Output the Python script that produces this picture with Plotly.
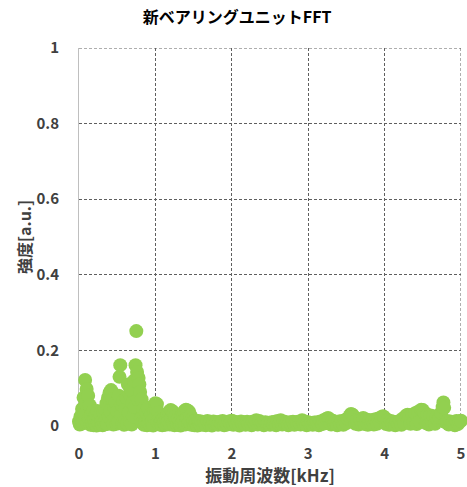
import plotly.graph_objects as go

# FFT spectrum of the new bearing unit: frequency [kHz] vs. intensity [a.u.]
# 0 - 1.6 kHz band (fine bins)
freq_low = [
    0.00, 0.01, 0.02, 0.03, 0.04, 0.05, 0.06, 0.07, 0.08, 0.09,
    0.10, 0.11, 0.12, 0.13, 0.14, 0.15, 0.16, 0.17, 0.18, 0.19,
    0.20, 0.21, 0.22, 0.23, 0.24, 0.25, 0.26, 0.27, 0.28, 0.29,
    0.30, 0.31, 0.32, 0.33, 0.34, 0.35, 0.36, 0.37, 0.38, 0.39,
    0.40, 0.41, 0.42, 0.43, 0.44, 0.45, 0.46, 0.47, 0.48, 0.49,
    0.50, 0.51, 0.52, 0.53, 0.54, 0.55, 0.56, 0.57, 0.58, 0.59,
    0.60, 0.61, 0.62, 0.63, 0.64, 0.65, 0.66, 0.67, 0.68, 0.69,
    0.70, 0.71, 0.72, 0.73, 0.74, 0.75, 0.76, 0.77, 0.78, 0.79,
    0.80, 0.81, 0.82, 0.83, 0.84, 0.85, 0.86, 0.87, 0.88, 0.89,
    0.90, 0.91, 0.92, 0.93, 0.94, 0.95, 0.96, 0.97, 0.98, 0.99,
    1.00, 1.01, 1.02, 1.03, 1.04, 1.05, 1.06, 1.07, 1.08, 1.09,
    1.10, 1.11, 1.12, 1.13, 1.14, 1.15, 1.16, 1.17, 1.18, 1.19,
    1.20, 1.21, 1.22, 1.23, 1.24, 1.25, 1.26, 1.27, 1.28, 1.29,
    1.30, 1.31, 1.32, 1.33, 1.34, 1.35, 1.36, 1.37, 1.38, 1.39,
    1.40, 1.41, 1.42, 1.43, 1.44, 1.45, 1.46, 1.47, 1.48, 1.49,
    1.50, 1.51, 1.52, 1.53, 1.54, 1.55, 1.56, 1.57, 1.58, 1.59,
]
intensity_low = [
    0.012, 0.004, 0.025, 0.006, 0.045, 0.010, 0.075, 0.030, 0.122, 0.060,
    0.098, 0.008, 0.080, 0.020, 0.055, 0.003, 0.030, 0.009, 0.038, 0.002,
    0.015, 0.006, 0.030, 0.001, 0.040, 0.008, 0.020, 0.004, 0.032, 0.007,
    0.012, 0.002, 0.035, 0.009, 0.045, 0.015, 0.060, 0.005, 0.075, 0.025,
    0.088, 0.040, 0.095, 0.012, 0.070, 0.004, 0.050, 0.020, 0.062, 0.006,
    0.040, 0.010, 0.080, 0.130, 0.161, 0.030, 0.055, 0.008, 0.066, 0.003,
    0.045, 0.015, 0.075, 0.006, 0.110, 0.035, 0.085, 0.010, 0.095, 0.004,
    0.060, 0.025, 0.120, 0.050, 0.161, 0.251, 0.143, 0.070, 0.127, 0.110,
    0.090, 0.020, 0.070, 0.008, 0.045, 0.003, 0.025, 0.010, 0.035, 0.002,
    0.048, 0.007, 0.020, 0.004, 0.030, 0.009, 0.015, 0.001, 0.040, 0.020,
    0.060, 0.045, 0.058, 0.010, 0.035, 0.004, 0.020, 0.008, 0.012, 0.002,
    0.018, 0.006, 0.010, 0.003, 0.022, 0.008, 0.030, 0.012, 0.038, 0.004,
    0.042, 0.020, 0.040, 0.007, 0.035, 0.002, 0.025, 0.009, 0.015, 0.003,
    0.020, 0.006, 0.012, 0.001, 0.025, 0.008, 0.032, 0.015, 0.040, 0.004,
    0.043, 0.022, 0.041, 0.006, 0.038, 0.010, 0.028, 0.003, 0.018, 0.008,
    0.012, 0.002, 0.014, 0.006, 0.010, 0.001, 0.013, 0.005, 0.011, 0.003,
]

# 1.6 - 5.0 kHz band
freq_high = [
    1.60, 1.62, 1.64, 1.66, 1.68, 1.70, 1.72, 1.74, 1.76, 1.78,
    1.80, 1.82, 1.84, 1.86, 1.88, 1.90, 1.92, 1.94, 1.96, 1.98,
    2.00, 2.02, 2.04, 2.06, 2.08, 2.10, 2.12, 2.14, 2.16, 2.18,
    2.20, 2.22, 2.24, 2.26, 2.28, 2.30, 2.32, 2.34, 2.36, 2.38,
    2.40, 2.42, 2.44, 2.46, 2.48, 2.50, 2.52, 2.54, 2.56, 2.58,
    2.60, 2.62, 2.64, 2.66, 2.68, 2.70, 2.72, 2.74, 2.76, 2.78,
    2.80, 2.82, 2.84, 2.86, 2.88, 2.90, 2.92, 2.94, 2.96, 2.98,
    3.00, 3.02, 3.04, 3.06, 3.08, 3.10, 3.12, 3.14, 3.16, 3.18,
    3.20, 3.22, 3.24, 3.26, 3.28, 3.30, 3.32, 3.34, 3.36, 3.38,
    3.40, 3.42, 3.44, 3.46, 3.48, 3.50, 3.52, 3.54, 3.56, 3.58,
    3.60, 3.62, 3.64, 3.66, 3.68, 3.70, 3.72, 3.74, 3.76, 3.78,
    3.80, 3.82, 3.84, 3.86, 3.88, 3.90, 3.92, 3.94, 3.96, 3.98,
    4.00, 4.02, 4.04, 4.06, 4.08, 4.10, 4.12, 4.14, 4.16, 4.18,
    4.20, 4.22, 4.24, 4.26, 4.28, 4.30, 4.32, 4.34, 4.36, 4.38,
    4.40, 4.42, 4.44, 4.46, 4.48, 4.50, 4.52, 4.54, 4.56, 4.58,
    4.60, 4.62, 4.64, 4.66, 4.68, 4.70, 4.72, 4.74, 4.76, 4.77,
    4.78, 4.80, 4.82, 4.84, 4.86, 4.88, 4.90, 4.92, 4.94, 4.96,
    4.98, 5.00,
]
intensity_high = [
    0.012, 0.004, 0.010, 0.002, 0.013, 0.006, 0.011, 0.001, 0.012, 0.005,
    0.010, 0.003, 0.011, 0.007, 0.013, 0.002, 0.010, 0.004, 0.012, 0.006,
    0.014, 0.003, 0.011, 0.005, 0.009, 0.001, 0.012, 0.006, 0.010, 0.003,
    0.011, 0.005, 0.009, 0.002, 0.012, 0.006, 0.015, 0.004, 0.013, 0.007,
    0.009, 0.002, 0.010, 0.005, 0.008, 0.003, 0.010, 0.006, 0.011, 0.002,
    0.013, 0.005, 0.015, 0.004, 0.012, 0.007, 0.009, 0.002, 0.010, 0.005,
    0.011, 0.003, 0.010, 0.006, 0.012, 0.004, 0.015, 0.006, 0.012, 0.002,
    0.010, 0.005, 0.008, 0.003, 0.009, 0.006, 0.010, 0.002, 0.012, 0.005,
    0.015, 0.007, 0.019, 0.021, 0.018, 0.004, 0.014, 0.006, 0.011, 0.002,
    0.012, 0.005, 0.013, 0.003, 0.015, 0.008, 0.020, 0.026, 0.032, 0.030,
    0.024, 0.006, 0.016, 0.004, 0.018, 0.008, 0.021, 0.005, 0.017, 0.003,
    0.015, 0.007, 0.016, 0.004, 0.018, 0.006, 0.020, 0.010, 0.024, 0.026,
    0.022, 0.005, 0.016, 0.003, 0.013, 0.006, 0.011, 0.002, 0.010, 0.005,
    0.014, 0.003, 0.020, 0.008, 0.027, 0.030, 0.024, 0.006, 0.030, 0.010,
    0.034, 0.005, 0.038, 0.012, 0.043, 0.042, 0.035, 0.008, 0.030, 0.004,
    0.028, 0.010, 0.026, 0.006, 0.024, 0.015, 0.022, 0.035, 0.050, 0.062,
    0.048, 0.010, 0.013, 0.004, 0.012, 0.007, 0.010, 0.002, 0.013, 0.005,
    0.012, 0.014,
]

x_ticks = [0, 1, 2, 3, 4, 5]
y_ticks = [0, 0.2, 0.4, 0.6, 0.8, 1]
y_tick_text = ["0", "0.2", "0.4", "0.6", "0.8", "1"]

title_text = "新ベアリングユニットFFT"
x_title = "振動周波数[kHz]"
y_title = "強度[a.u.]"

GREEN = "#92D050"
GRID = "#5f5f5f"
TEXT = "#404040"
FONT = "Noto Sans CJK JP, Noto Sans, sans-serif"
GRID_DASH = "3px,2px"

freq = freq_low + freq_high
intensity = intensity_low + intensity_high

fig = go.Figure(
    go.Scatter(
        x=freq,
        y=intensity,
        mode="markers",
        marker=dict(color=GREEN, size=14, line=dict(width=0)),
        cliponaxis=False,
        hoverinfo="x+y",
    )
)

axis_common = dict(
    showgrid=True,
    gridcolor=GRID,
    gridwidth=1,
    griddash=GRID_DASH,
    zeroline=False,
    ticks="",
    automargin=False,
    layer="below traces",
    tickfont=dict(family=FONT, size=15, color=TEXT, weight="bold"),
)

fig.update_layout(
    width=467,
    height=487,
    margin=dict(l=79, r=6, t=48, b=61),
    paper_bgcolor="white",
    plot_bgcolor="white",
    showlegend=False,
    title=dict(
        text=title_text,
        x=0.508,
        xanchor="center",
        y=1 - 17 / 487,
        yanchor="middle",
        font=dict(family=FONT, size=16, color="#000000", weight="bold"),
    ),
    xaxis=dict(
        **axis_common,
        range=[0, 5],
        tickvals=x_ticks,
        ticktext=[str(v) for v in x_ticks],
        showline=False,
        ticklabelstandoff=17,
        title=dict(
            text=x_title,
            font=dict(family=FONT, size=17, color=TEXT, weight="bold"),
            standoff=9,
        ),
    ),
    yaxis=dict(
        **axis_common,
        range=[0, 1],
        tickvals=y_ticks,
        ticktext=y_tick_text,
        showline=True,
        linecolor="#bfbfbf",
        linewidth=1,
        ticklabelstandoff=16,
        title=dict(
            text=y_title,
            font=dict(family=FONT, size=16, color=TEXT, weight="bold"),
            standoff=0,
        ),
    ),
    # dashed frame edges along the top (y = 1) and right (x = 5) of the plot area
    shapes=[
        dict(type="line", xref="paper", yref="y", x0=0, x1=1, y0=1, y1=1,
             line=dict(color=GRID, width=1, dash=GRID_DASH), layer="below"),
        dict(type="line", xref="x", yref="paper", x0=5, x1=5, y0=0, y1=1,
             line=dict(color=GRID, width=1, dash=GRID_DASH), layer="below"),
    ],
)

fig.write_html("out.html")
